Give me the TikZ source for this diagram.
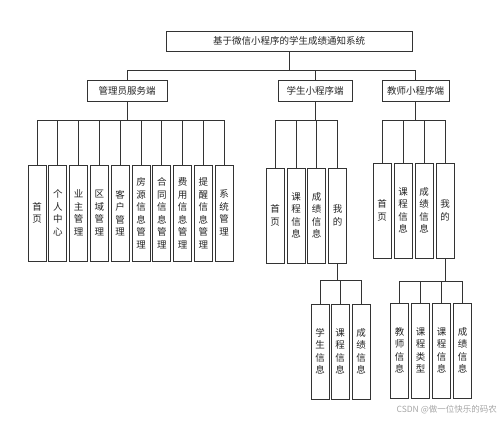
\documentclass[tikz,border=0pt]{standalone}
\usepackage{fontspec}
\newfontfamily\cjk{Noto Sans CJK SC}
\begin{document}
\begin{tikzpicture}[x=1pt,y=-1pt,
  box/.style={draw=black!80, line width=0.8pt, fill=white, inner sep=0pt, align=center, text=black!85},
  hbox/.style={box, minimum height=21pt, font=\cjk\fontsize{9.5}{11}\selectfont},
  vbox/.style={box, minimum width=18pt, minimum height=95pt, font=\cjk\fontsize{9.5}{12.5}\selectfont},
  conn/.style={draw=black!80, line width=0.8pt}]
\useasboundingbox (0,0) rectangle (500,420);
% root and level 2
\node[hbox, minimum width=246pt, minimum height=20pt] (root) at (289,41) {基于微信小程序的学生成绩通知系统};
\node[hbox, minimum width=80pt] (adm) at (127,90.5) {管理员服务端};
\node[hbox, minimum width=74pt] (stu) at (315,90.5) {学生小程序端};
\node[hbox, minimum width=67pt] (tea) at (415.5,90.5) {教师小程序端};
\coordinate (rb) at (289,70);
\draw[conn] (root.south) -- (rb);
\draw[conn] (rb) -| (adm.north);
\draw[conn] (rb) -| (stu.north);
\draw[conn] (rb) -| (tea.north);
% admin children
\node[vbox, minimum height=96pt] (a1) at (37,213) {首\\页};
\node[vbox, minimum height=96pt] (a2) at (57.8,213) {个\\人\\中\\心};
\node[vbox, minimum height=96pt] (a3) at (78.6,213) {业\\主\\管\\理};
\node[vbox, minimum height=96pt] (a4) at (99.4,213) {区\\域\\管\\理};
\node[vbox, minimum height=96pt] (a5) at (120.2,213) {客\\户\\管\\理};
\node[vbox, minimum height=96pt] (a6) at (141,213) {房\\源\\信\\息\\管\\理};
\node[vbox, minimum height=96pt] (a7) at (161.8,213) {合\\同\\信\\息\\管\\理};
\node[vbox, minimum height=96pt] (a8) at (182.6,213) {费\\用\\信\\息\\管\\理};
\node[vbox, minimum height=96pt] (a9) at (203.4,213) {提\\醒\\信\\息\\管\\理};
\node[vbox, minimum height=96pt] (a10) at (224.2,213) {系\\统\\管\\理};
\coordinate (ab) at (127,120);
\draw[conn] (adm.south) -- (ab);
\foreach \i in {1,...,10} \draw[conn] (ab) -| (a\i.north);
% student children
\node[vbox] (s1) at (275,215.5) {首\\页};
\node[vbox] (s2) at (296,215.5) {课\\程\\信\\息};
\node[vbox] (s3) at (316.5,215.5) {成\\绩\\信\\息};
\node[vbox] (s4) at (337.5,215.5) {我\\的};
\coordinate (sb) at (315,120);
\draw[conn] (stu.south) -- (sb);
\foreach \i in {1,...,4} \draw[conn] (sb) -| (s\i.north);
% teacher children
\node[vbox] (t1) at (382,210.5) {首\\页};
\node[vbox] (t2) at (403,210.5) {课\\程\\信\\息};
\node[vbox] (t3) at (424,210.5) {成\\绩\\信\\息};
\node[vbox] (t4) at (445,210.5) {我\\的};
\coordinate (tb) at (415.5,120);
\draw[conn] (tea.south) -- (tb);
\foreach \i in {1,...,4} \draw[conn] (tb) -| (t\i.north);
% student 我的 children
\node[vbox] (m1) at (320,351.5) {学\\生\\信\\息};
\node[vbox] (m2) at (340,351.5) {课\\程\\信\\息};
\node[vbox] (m3) at (361,351.5) {成\\绩\\信\\息};
\coordinate (mb) at (337.5,280);
\draw[conn] (s4.south) -- (mb);
\foreach \i in {1,...,3} \draw[conn] (mb) -| (m\i.north);
% teacher 我的 children
\node[vbox] (n1) at (399.5,350.5) {教\\师\\信\\息};
\node[vbox] (n2) at (420.5,350.5) {课\\程\\类\\型};
\node[vbox] (n3) at (441.5,350.5) {课\\程\\信\\息};
\node[vbox] (n4) at (462.5,350.5) {成\\绩\\信\\息};
\coordinate (nb) at (445,281);
\draw[conn] (t4.south) -- (nb);
\foreach \i in {1,...,4} \draw[conn] (nb) -| (n\i.north);
% watermark
\node[font=\cjk\fontsize{8.5}{10}\selectfont, text=black!35, anchor=east, inner sep=0pt] (wm) at (497,410) {CSDN @做一位快乐的码农};
\end{tikzpicture}
\end{document}
